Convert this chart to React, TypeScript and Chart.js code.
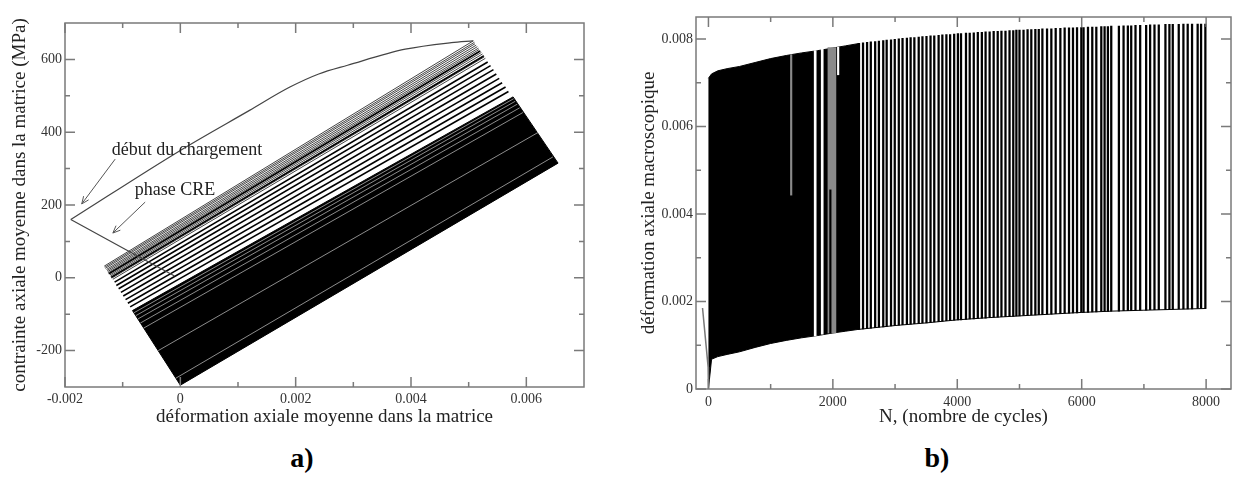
import React, { useEffect, useRef } from 'react';
import { Chart, registerables } from 'chart.js';
Chart.register(...registerables);

const FONT = "'Liberation Serif', 'Times New Roman', serif";
const TICK_COLOR = '#333';
const TITLE_COLOR = '#222';
const FRAME_COLOR = '#7a7a7a';

// ================= Panel a) =================
const aXTicks = [-0.002, 0, 0.002, 0.004, 0.006];
const aXTickLabels = ['-0.002', '0', '0.002', '0.004', '0.006'];
const aXMinor = [-0.001, 0.001, 0.003, 0.005];
const aYTicks = [-200, 0, 200, 400, 600];
const aYTickLabels = ['-200', '0', '200', '400', '600'];
const aYMinor = [-100, 100, 300, 500];

// CRE phase (straight)
const creStrain = [-0.0001, -0.00095, -0.0019];
const creStress = [5, 78, 160];
// first loading (curved)
const loadStrain = [-0.0019, 0.0, 0.0012, 0.0019, 0.0024, 0.0029, 0.0039, 0.0047, 0.00508];
const loadStress = [160, 350, 460, 524, 560, 584, 628, 646, 651];

// thin grey cycles (upper group)
const greyLowStrain = [-0.00132, -0.00131, -0.0013, -0.00128, -0.00127, -0.00126, -0.00125, -0.00124, -0.00122, -0.00121, -0.0012, -0.00119, -0.00117];
const greyLowStress = [32, 29, 26, 23, 20, 17, 14, 11, 8, 5, 2, -1, -4];
const greyHighStrain = [0.00508, 0.0051, 0.00511, 0.00513, 0.00515, 0.00517, 0.00518, 0.0052, 0.00522, 0.00524, 0.00526, 0.00527, 0.00529];
const greyHighStress = [651, 647, 643, 639, 635, 631, 627, 623, 619, 615, 611, 607, 603];

// distinct black cycles
const blackLowStrain = [-0.00124, -0.0012, -0.00114, -0.00111, -0.00107, -0.00103, -0.00099, -0.00095, -0.00091, -0.00087];
const blackLowStress = [11, 1, -12, -21, -30, -40, -50, -60, -70, -80];
const blackHighStrain = [0.0052, 0.00526, 0.00533, 0.00538, 0.00543, 0.00548, 0.00553, 0.00558, 0.00564, 0.00569];
const blackHighStress = [623, 609, 593, 583, 572, 560, 548, 536, 524, 512];

// dense (solid) block of cycles
const denseStrain = [-0.00083, 0.00577, 0.00655, 0.0];
const denseStress = [-90, 497, 315, -295];

// light gaps inside the dense block
const gapLowStrain = [-0.000803, -0.000771, -0.000735, -0.00069, -0.000634, -0.000383, -0.00008];
const gapLowStress = [-96, -104, -113, -124, -138, -200, -276];
const gapHighStrain = [0.00578, 0.005808, 0.005843, 0.005885, 0.00594, 0.0062, 0.00646];
const gapHighStress = [492, 485, 477, 467, 454, 399, 332];

// annotations
const annotText = ['début du chargement', 'phase CRE'];
const annotTextX = [-0.00119, -0.00079];
const annotTextY = [351, 241];
const arrowFromX = [-0.00113, -0.00061];
const arrowFromY = [326, 208];
const arrowToX = [-0.00171, -0.00117];
const arrowToY = [203, 123];

// ================= Panel b) =================
const bXTicks = [0, 2000, 4000, 6000, 8000];
const bXTickLabels = ['0', '2000', '4000', '6000', '8000'];
const bXMinor = [1000, 3000, 5000, 7000];
const bYTicks = [0, 0.002, 0.004, 0.006, 0.008];
const bYTickLabels = ['0', '0.002', '0.004', '0.006', '0.008'];
const bYMinor = [0.001, 0.003, 0.005, 0.007];

const initN = [-95, -5, 0];
const initEps = [0.00185, 0.0005, 0.0];

const denseN = [0, 50, 150, 300, 500, 750, 1000, 1250, 1500, 1750, 2000, 2200, 2400];
const denseUpper = [0.0071, 0.0072, 0.00727, 0.00732, 0.00737, 0.00746, 0.00755, 0.00762, 0.00768, 0.00773, 0.00779, 0.00784, 0.00789];
const denseLower = [0.0, 0.00068, 0.00074, 0.00079, 0.00085, 0.00095, 0.00104, 0.00111, 0.00117, 0.00122, 0.00128, 0.00132, 0.00136];

const streakN = [1330, 1716, 1829, 1985, 1960, 2085];
const streakMin = [0.00443, 0.00121, 0.00125, 0.00128, 0.00128, 0.00718];
const streakMax = [0.00764, 0.00773, 0.00776, 0.0078, 0.00455, 0.00781];

const sparseN = [2420, 2485, 2550, 2610, 2680, 2740, 2810, 2865, 2935, 2995,
  3060, 3120, 3190, 3250, 3310, 3380, 3440, 3505, 3570, 3630,
  3700, 3760, 3825, 3885, 3950, 4010, 4060, 4140, 4200, 4265,
  4330, 4395, 4455, 4520, 4585, 4650, 4710, 4775, 4840, 4900,
  4950, 5000, 5065, 5130, 5190, 5255, 5310, 5368, 5443, 5512,
  5582, 5657, 5726, 5796, 5860, 5925, 5994, 6030, 6101, 6170,
  6235, 6315, 6368, 6421, 6475, 6598, 6673, 6742, 6796, 6865,
  6940, 7036, 7100, 7170, 7239, 7346, 7410, 7464, 7560, 7635,
  7704, 7774, 7864, 7919, 7988];
const sparseMax = [0.0079, 0.00791, 0.00792, 0.00793, 0.00794, 0.00795, 0.00796, 0.00797, 0.00798, 0.00799,
  0.008, 0.00801, 0.00802, 0.00803, 0.00803, 0.00804, 0.00805, 0.00806, 0.00807, 0.00807,
  0.00808, 0.00809, 0.0081, 0.0081, 0.00811, 0.00812, 0.00812, 0.00813, 0.00813, 0.00814,
  0.00815, 0.00815, 0.00816, 0.00816, 0.00817, 0.00817, 0.00818, 0.00818, 0.00819, 0.00819,
  0.0082, 0.0082, 0.0082, 0.00821, 0.00821, 0.00822, 0.00822, 0.00823, 0.00823, 0.00823,
  0.00824, 0.00824, 0.00825, 0.00825, 0.00825, 0.00826, 0.00826, 0.00826, 0.00827, 0.00827,
  0.00827, 0.00828, 0.00828, 0.00828, 0.00829, 0.00829, 0.0083, 0.0083, 0.0083, 0.00831,
  0.00831, 0.00831, 0.00832, 0.00832, 0.00832, 0.00833, 0.00833, 0.00833, 0.00833, 0.00834,
  0.00834, 0.00834, 0.00834, 0.00834, 0.00834];
const sparseMin = [0.00136, 0.00137, 0.00138, 0.00139, 0.0014, 0.00141, 0.00142, 0.00143, 0.00144, 0.00145,
  0.00146, 0.00147, 0.00147, 0.00148, 0.00149, 0.0015, 0.00151, 0.00151, 0.00152, 0.00153,
  0.00154, 0.00155, 0.00156, 0.00156, 0.00157, 0.00158, 0.00158, 0.00159, 0.0016, 0.0016,
  0.00161, 0.00162, 0.00162, 0.00163, 0.00164, 0.00164, 0.00165, 0.00165, 0.00166, 0.00166,
  0.00167, 0.00167, 0.00168, 0.00168, 0.00169, 0.00169, 0.0017, 0.0017, 0.00171, 0.00171,
  0.00172, 0.00172, 0.00173, 0.00173, 0.00174, 0.00174, 0.00175, 0.00175, 0.00175, 0.00176,
  0.00176, 0.00177, 0.00177, 0.00177, 0.00178, 0.00178, 0.00179, 0.00179, 0.00179, 0.0018,
  0.0018, 0.0018, 0.00181, 0.00181, 0.00181, 0.00182, 0.00182, 0.00182, 0.00183, 0.00183,
  0.00183, 0.00183, 0.00184, 0.00184, 0.00184];

const envN = [2400, 3000, 3500, 4000, 4500, 5000, 5500, 6000, 6500, 7000, 7500, 8000];
const envLower = [0.00136, 0.00145, 0.00151, 0.00158, 0.00163, 0.00167, 0.00171, 0.00175, 0.00178, 0.0018, 0.00182, 0.00184];

// ================= helpers =================
function framePlugin(xMajor: number[], xMinor: number[], yMajor: number[], yMinor: number[]) {
  return {
    id: 'frameTicks',
    afterDatasetsDraw(chart: any) {
      const { ctx, chartArea } = chart;
      const { left, right, top, bottom } = chartArea;
      const xs = chart.scales.x;
      const ys = chart.scales.y;
      ctx.save();
      ctx.strokeStyle = FRAME_COLOR;
      ctx.lineWidth = 1.5;
      ctx.beginPath();
      const vt = (vals: number[], len: number) =>
        vals.forEach((v) => {
          const p = xs.getPixelForValue(v);
          ctx.moveTo(p, bottom);
          ctx.lineTo(p, bottom - len);
          ctx.moveTo(p, top);
          ctx.lineTo(p, top + len);
        });
      const ht = (vals: number[], len: number) =>
        vals.forEach((v) => {
          const p = ys.getPixelForValue(v);
          ctx.moveTo(left, p);
          ctx.lineTo(left + len, p);
          ctx.moveTo(right, p);
          ctx.lineTo(right - len, p);
        });
      vt(xMajor, 10);
      vt(xMinor, 5);
      ht(yMajor, 10);
      ht(yMinor, 5);
      ctx.stroke();
      ctx.strokeRect(left, top, right - left, bottom - top);
      ctx.restore();
    },
  };
}

const annotationPlugin = {
  id: 'annotations',
  afterDatasetsDraw(chart: any) {
    const { ctx } = chart;
    const xs = chart.scales.x;
    const ys = chart.scales.y;
    ctx.save();
    ctx.strokeStyle = '#555';
    ctx.lineWidth = 1;
    arrowFromX.forEach((_, i) => {
      const x0 = xs.getPixelForValue(arrowFromX[i]);
      const y0 = ys.getPixelForValue(arrowFromY[i]);
      const x1 = xs.getPixelForValue(arrowToX[i]);
      const y1 = ys.getPixelForValue(arrowToY[i]);
      const ang = Math.atan2(y1 - y0, x1 - x0);
      ctx.beginPath();
      ctx.moveTo(x0, y0);
      ctx.lineTo(x1, y1);
      const hl = 8;
      ctx.moveTo(x1, y1);
      ctx.lineTo(x1 - hl * Math.cos(ang - 0.4), y1 - hl * Math.sin(ang - 0.4));
      ctx.moveTo(x1, y1);
      ctx.lineTo(x1 - hl * Math.cos(ang + 0.4), y1 - hl * Math.sin(ang + 0.4));
      ctx.stroke();
    });
    ctx.fillStyle = '#222';
    ctx.font = `18px ${FONT}`;
    ctx.textBaseline = 'middle';
    ctx.textAlign = 'left';
    annotText.forEach((t, i) => {
      ctx.fillText(t, xs.getPixelForValue(annotTextX[i]), ys.getPixelForValue(annotTextY[i]));
    });
    ctx.restore();
  },
};

function labelFor(ticks: number[], labels: string[]) {
  return (v: any) => {
    const i = ticks.findIndex((t) => Math.abs(t - Number(v)) < 1e-9);
    return i >= 0 ? labels[i] : '';
  };
}

function axis(opts: {
  min: number; max: number; ticks: number[]; labels: string[]; title: string;
  isX: boolean; size: number; titlePad: any; tickPad: number;
}) {
  return {
    type: 'linear',
    min: opts.min,
    max: opts.max,
    offset: false,
    grid: { display: false, drawTicks: false },
    border: { display: false },
    afterBuildTicks: (s: any) => {
      s.ticks = opts.ticks.map((v) => ({ value: v }));
    },
    afterFit: (s: any) => {
      if (opts.isX) s.height = opts.size;
      else s.width = opts.size;
    },
    ticks: {
      callback: labelFor(opts.ticks, opts.labels),
      font: { family: FONT, size: 14 },
      color: TICK_COLOR,
      padding: opts.tickPad,
      maxRotation: 0,
      minRotation: 0,
      autoSkip: false,
    },
    title: {
      display: true,
      text: opts.title,
      font: { family: FONT, size: 19 },
      color: TITLE_COLOR,
      padding: opts.titlePad,
    },
  };
}

function segDatasets(x0: number[], y0: number[], x1: number[], y1: number[], color: string, width: number, order: number) {
  return x0.map((_, i) => ({
    type: 'line',
    data: [{ x: x0[i], y: y0[i] }, { x: x1[i], y: y1[i] }],
    borderColor: color,
    borderWidth: width,
    pointRadius: 0,
    fill: false,
    tension: 0,
    order,
  }));
}

function configA() {
  const polyX = [...denseStrain, denseStrain[0]];
  const polyY = [...denseStress, denseStress[0]];
  const polygon = polyX.map((x, i) => ({ x, y: polyY[i] }));
  return {
    type: 'scatter',
    data: {
      datasets: [
        ...segDatasets(gapLowStrain, gapLowStress, gapHighStrain, gapHighStress, 'rgba(255,255,255,0.55)', 1, 1),
        {
          type: 'line',
          data: creStrain.map((x, i) => ({ x, y: creStress[i] })),
          borderColor: '#444', borderWidth: 1.2, pointRadius: 0, fill: false, tension: 0, order: 0,
        },
        {
          type: 'line',
          data: loadStrain.map((x, i) => ({ x, y: loadStress[i] })),
          borderColor: '#444', borderWidth: 1.2, pointRadius: 0, fill: false,
          cubicInterpolationMode: 'monotone', order: 0,
        },
        ...segDatasets(blackLowStrain, blackLowStress, blackHighStrain, blackHighStress, '#000', 1.6, 2),
        ...segDatasets(greyLowStrain, greyLowStress, greyHighStrain, greyHighStress, '#444', 1, 3),
        {
          type: 'line',
          data: polygon,
          borderColor: '#000', backgroundColor: '#000', borderWidth: 1,
          pointRadius: 0, fill: 'shape', tension: 0, order: 4,
        },
      ],
    },
    options: {
      responsive: false,
      animation: false,
      events: [],
      layout: { padding: { top: 23, right: 16, bottom: 0, left: 0 } },
      plugins: { legend: { display: false }, tooltip: { enabled: false } },
      scales: {
        x: axis({ min: -0.002, max: 0.007, ticks: aXTicks, labels: aXTickLabels, isX: true, size: 53,
          title: 'déformation axiale moyenne dans la matrice', titlePad: { top: 0, bottom: 12 }, tickPad: 4 }),
        y: axis({ min: -300, max: 700, ticks: aYTicks, labels: aYTickLabels, isX: false, size: 65,
          title: 'contrainte axiale moyenne dans la matrice (MPa)', titlePad: { top: 9, bottom: 0 }, tickPad: 3 }),
      },
    },
    plugins: [framePlugin(aXTicks, aXMinor, aYTicks, aYMinor), annotationPlugin],
  };
}

function configB() {
  const densePoly = [
    ...denseN.map((x, i) => ({ x, y: denseUpper[i] })),
    ...denseN.map((x, i) => ({ x, y: denseLower[i] })).reverse(),
  ];
  const streakColors = ['#8a8a8a', '#ffffff', '#ffffff', '#8a8a8a', '#000000', '#ffffff'];
  const streakWidths = [1.5, 2, 2, 8, 1.5, 1.5];
  return {
    type: 'scatter',
    data: {
      datasets: [
        {
          type: 'line',
          data: initN.map((x, i) => ({ x, y: initEps[i] })),
          borderColor: '#777', borderWidth: 1.5, pointRadius: 0, fill: false, tension: 0, order: 0,
        },
        ...streakN.map((n, i) => ({
          type: 'bar',
          data: [{ x: n, y: [streakMin[i], streakMax[i]] }],
          backgroundColor: streakColors[i],
          barThickness: streakWidths[i],
          grouped: false,
          order: i === 4 ? 0.5 : 1,
        })),
        {
          type: 'bar',
          data: sparseN.map((n, i) => ({ x: n, y: [sparseMin[i], sparseMax[i]] })),
          backgroundColor: '#000',
          barThickness: 1.6,
          grouped: false,
          order: 2,
        },
        {
          type: 'line',
          data: envN.map((x, i) => ({ x, y: envLower[i] })),
          borderColor: '#000', borderWidth: 1, pointRadius: 0, fill: false, tension: 0, order: 3,
        },
        {
          type: 'line',
          data: densePoly,
          borderColor: '#000', backgroundColor: '#000', borderWidth: 1,
          pointRadius: 0, fill: 'shape', tension: 0, order: 4,
        },
      ],
    },
    options: {
      responsive: false,
      animation: false,
      events: [],
      layout: { padding: { top: 17, right: 4, bottom: 0, left: 0 } },
      plugins: { legend: { display: false }, tooltip: { enabled: false } },
      scales: {
        x: axis({ min: -200, max: 8400, ticks: bXTicks, labels: bXTickLabels, isX: true, size: 51,
          title: 'N, (nombre de cycles)', titlePad: { top: 0, bottom: 12 }, tickPad: 5 }),
        y: axis({ min: 0, max: 0.0085, ticks: bYTicks, labels: bYTickLabels, isX: false, size: 76,
          title: 'déformation axiale macroscopique', titlePad: { top: 18, bottom: 0 }, tickPad: 3 }),
      },
    },
    plugins: [framePlugin(bXTicks, bXMinor, bYTicks, bYMinor)],
  };
}

function ChartCanvas({ makeConfig, left, top, width, height }: any) {
  const ref = useRef<HTMLCanvasElement | null>(null);
  useEffect(() => {
    if (!ref.current) return;
    const chart = new Chart(ref.current, makeConfig());
    return () => chart.destroy();
  }, []);
  return (
    <canvas
      ref={ref}
      width={width}
      height={height}
      style={{ position: 'absolute', left, top, width, height }}
    />
  );
}

const captionStyle: React.CSSProperties = {
  position: 'absolute',
  width: 100,
  textAlign: 'center',
  fontFamily: FONT,
  fontWeight: 'bold',
  fontSize: 28,
  lineHeight: '32px',
  color: '#000',
};

export default function App() {
  return (
    <div style={{ position: 'fixed', left: 0, top: 0, width: 1235, height: 484, background: '#fff', overflow: 'hidden' }}>
      <ChartCanvas makeConfig={configA} left={0} top={0} width={600} height={440} />
      <ChartCanvas makeConfig={configB} left={620} top={0} width={615} height={440} />
      <div style={{ ...captionStyle, left: 252, top: 442 }}>a)</div>
      <div style={{ ...captionStyle, left: 887, top: 442 }}>b)</div>
    </div>
  );
}
